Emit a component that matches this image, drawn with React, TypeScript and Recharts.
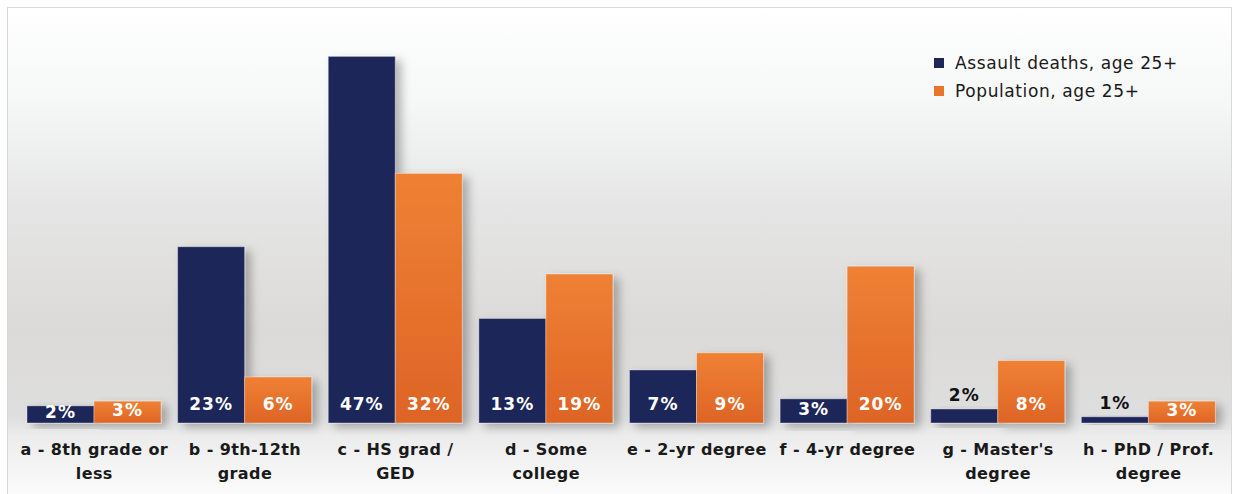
import React from "react";
import { BarChart, Bar, XAxis, YAxis, Legend, LabelList } from "recharts";

// education level buckets, share of each group (%)
const categories = ["a", "b", "c", "d", "e", "f", "g", "h"];
const tickLines = [
  ["a - 8th grade or", "less"],
  ["b - 9th-12th", "grade"],
  ["c - HS grad /", "GED"],
  ["d - Some", "college"],
  ["e - 2-yr degree"],
  ["f - 4-yr degree"],
  ["g - Master's", "degree"],
  ["h - PhD / Prof.", "degree"],
];
const assaultDeaths = [2.2, 22.6, 47.0, 13.4, 6.8, 3.1, 1.8, 0.8];
const population = [2.8, 5.9, 32.0, 19.1, 9.0, 20.1, 8.0, 2.8];

const NAVY = "#1e2559";
const ORANGE = "#ea742c";
const FONT = "'DejaVu Sans', sans-serif";

const data = categories.map((c, i) => ({
  key: c,
  deaths: assaultDeaths[i],
  population: population[i],
}));

const CategoryTick = (props: any) => {
  const { x, y, index } = props;
  const lines = tickLines[index] || [];
  return (
    <g>
      {lines.map((line, i) => (
        <text
          key={i}
          x={x}
          y={y + 24 + i * 24}
          textAnchor="middle"
          fill="#1a1a1a"
          fontFamily={FONT}
          fontWeight={700}
          fontSize={16}
          letterSpacing={0.4}
        >
          {line}
        </text>
      ))}
    </g>
  );
};

const BarLabel = (props: any) => {
  const { x, y, width, height, value } = props;
  const cx = x + width / 2;
  const text = `${Math.round(value)}%`;
  // tiny bars get a dark label sitting above them
  if (value < 2) {
    return (
      <text
        x={cx}
        y={y - 14}
        textAnchor="middle"
        dominantBaseline="central"
        fill="#111"
        fontFamily={FONT}
        fontWeight={700}
        fontSize={17}
        letterSpacing={1}
      >
        {text}
      </text>
    );
  }
  const cy = Math.max(y + height - 19, y + height / 2 - 2);
  return (
    <text
      x={cx}
      y={cy}
      textAnchor="middle"
      dominantBaseline="central"
      fill="#fff"
      fontFamily={FONT}
      fontWeight={700}
      fontSize={17}
      letterSpacing={1}
    >
      {text}
    </text>
  );
};

const ShadowRect = (fill: string) => (props: any) => {
  const { x, y, width, height } = props;
  return (
    <rect
      x={x}
      y={y}
      width={width}
      height={height}
      fill={fill}
      stroke="rgba(255,255,255,0.35)"
      strokeWidth={1}
      filter="url(#barShadow)"
    />
  );
};

const LegendBox = () => (
  <div
    style={{
      fontFamily: FONT,
      fontSize: 17,
      letterSpacing: 0.6,
      color: "#1a1a1a",
    }}
  >
    {[
      { label: "Assault deaths, age 25+", color: NAVY },
      { label: "Population, age 25+", color: ORANGE },
    ].map((item) => (
      <div
        key={item.label}
        style={{ display: "flex", alignItems: "center", height: 28 }}
      >
        <span
          style={{
            display: "inline-block",
            width: 10,
            height: 10,
            background: item.color,
            marginRight: 11,
          }}
        />
        {item.label}
      </div>
    ))}
  </div>
);

export default function App() {
  return (
    <div
      style={{
        position: "absolute",
        left: 7,
        top: 7,
        width: 1223,
        height: 486,
        border: "1px solid #d9d9d9",
        borderBottom: "none",
        background:
          "linear-gradient(to bottom, #ffffff 0%, #f6f7f7 19%, #e6e6e6 40%, #dbdad8 66%, #dedede 84%, #ececec 88%, #fbfbfb 100%)",
      }}
    >
      <BarChart
        width={1223}
        height={486}
        data={data}
        margin={{ top: 25, right: 7, left: 11, bottom: 11 }}
        barCategoryGap={8}
        barGap={0}
      >
        <defs>
          <linearGradient id="orangeFill" x1="0" y1="0" x2="0" y2="1">
            <stop offset="0%" stopColor="#ef8134" />
            <stop offset="100%" stopColor="#de6426" />
          </linearGradient>
          <filter id="barShadow" x="-20%" y="-20%" width="150%" height="150%">
            <feDropShadow dx={6} dy={4} stdDeviation={5} floodColor="#000" floodOpacity={0.28} />
          </filter>
        </defs>
        <XAxis
          dataKey="key"
          axisLine={false}
          tickLine={false}
          height={60}
          interval={0}
          tick={<CategoryTick />}
        />
        <YAxis hide domain={[0, 50]} />
        {/* middle/center keeps the legend from eating plot space */}
        <Legend
          layout="horizontal"
          verticalAlign="middle"
          align="center"
          content={<LegendBox />}
          wrapperStyle={{ top: 41, left: 926, width: 290 }}
        />
        <Bar
          dataKey="deaths"
          name="Assault deaths, age 25+"
          fill={NAVY}
          isAnimationActive={false}
          shape={ShadowRect(NAVY)}
        >
          <LabelList dataKey="deaths" content={<BarLabel />} />
        </Bar>
        <Bar
          dataKey="population"
          name="Population, age 25+"
          fill="url(#orangeFill)"
          isAnimationActive={false}
          shape={ShadowRect("url(#orangeFill)")}
        >
          <LabelList dataKey="population" content={<BarLabel />} />
        </Bar>
      </BarChart>
    </div>
  );
}
